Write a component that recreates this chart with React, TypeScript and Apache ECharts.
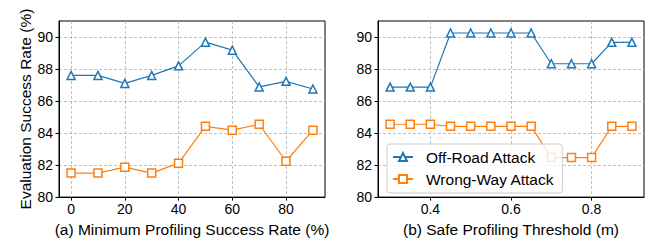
import React, { useEffect, useRef } from "react";
import * as echarts from "echarts";

const leftX = [0, 10, 20, 30, 40, 50, 60, 70, 80, 90];
const leftOffRoad = [87.6, 87.6, 87.1, 87.6, 88.2, 89.68, 89.18, 86.88, 87.23, 86.75];
const leftWrongWay = [81.5, 81.5, 81.87, 81.5, 82.12, 84.42, 84.18, 84.55, 82.24, 84.18];

const rightX = [0.3, 0.35, 0.4, 0.45, 0.5, 0.55, 0.6, 0.65, 0.7, 0.75, 0.8, 0.85, 0.9];
const rightOffRoad = [86.87, 86.87, 86.87, 90.25, 90.25, 90.25, 90.25, 90.25, 88.33, 88.33, 88.33, 89.67, 89.67];
const rightWrongWay = [84.55, 84.55, 84.55, 84.42, 84.42, 84.42, 84.42, 84.42, 82.47, 82.47, 82.47, 84.42, 84.42];

const leftXTicks = [0, 20, 40, 60, 80];
const rightXTicks = [0.4, 0.6, 0.8];
const yTicks = [80, 82, 84, 86, 88, 90];

const seriesNames = ["Off-Road Attack", "Wrong-Way Attack"];
const yLabel = "Evaluation Success Rate (%)";
const leftXLabel = "(a) Minimum Profiling Success Rate (%)";
const rightXLabel = "(b) Safe Profiling Threshold (m)";

const BLUE = "#1f77b4";
const ORANGE = "#ff7f0e";
const FONT = "Liberation Sans, Arial, sans-serif";

function zip(xs: number[], ys: number[]) {
  return xs.map((x, i) => [x, ys[i]]);
}

function makeX(gridIndex: number, min: number, max: number, ticks: number[], name: string) {
  return {
    type: "value",
    gridIndex,
    min,
    max,
    name,
    nameLocation: "middle",
    nameGap: 22,
    nameTextStyle: { fontSize: 15.5, color: "#000", fontFamily: FONT },
    axisLine: { show: true, onZero: false, lineStyle: { color: "#000", width: 1 } },
    axisTick: { show: true, length: 3.5, customValues: ticks, lineStyle: { color: "#000", width: 1 } },
    axisLabel: {
      customValues: ticks,
      fontSize: 14,
      color: "#000",
      fontFamily: FONT,
      margin: 5,
      formatter: (v: number) => String(v),
    },
    splitLine: { show: true, lineStyle: { color: "#b0b0b0", width: 0.8, type: [3, 2] } },
  };
}

function makeY(gridIndex: number, withName: boolean) {
  return {
    type: "value",
    gridIndex,
    min: 80,
    max: 91,
    name: withName ? yLabel : "",
    nameLocation: "middle",
    nameGap: 26,
    nameTextStyle: { fontSize: 15.5, color: "#000", fontFamily: FONT },
    axisLine: { show: true, onZero: false, lineStyle: { color: "#000", width: 1 } },
    axisTick: { show: true, length: 3.5, customValues: yTicks, lineStyle: { color: "#000", width: 1 } },
    axisLabel: { customValues: yTicks, fontSize: 14, color: "#000", fontFamily: FONT, margin: 6 },
    splitLine: { show: true, lineStyle: { color: "#b0b0b0", width: 0.8, type: [3, 2] } },
  };
}

function makeSeries(name: string, idx: number, data: number[][], color: string, symbol: string) {
  return {
    type: "line",
    name,
    xAxisIndex: idx,
    yAxisIndex: idx,
    data,
    symbol,
    symbolSize: 8,
    color,
    lineStyle: { color, width: 1.2 },
    itemStyle: { color: "#fff", borderColor: color, borderWidth: 1.5 },
    emphasis: { disabled: true },
  };
}

export default function App() {
  const ref = useRef<HTMLDivElement>(null);
  useEffect(() => {
    if (!ref.current) return;
    const chart = echarts.init(ref.current, undefined, { renderer: "svg" });
    chart.setOption({
      animation: false,
      backgroundColor: "#fff",
      textStyle: { fontFamily: FONT },
      grid: [
        { left: 59, right: 324, top: 21, bottom: 40, show: true, borderColor: "#000", borderWidth: 1, backgroundColor: "transparent" },
        { left: 378, right: 5, top: 21, bottom: 40, show: true, borderColor: "#000", borderWidth: 1, backgroundColor: "transparent" },
      ],
      xAxis: [
        makeX(0, -4.5, 94.5, leftXTicks, leftXLabel),
        makeX(1, 0.27, 0.93, rightXTicks, rightXLabel),
      ],
      yAxis: [makeY(0, true), makeY(1, false)],
      legend: {
        data: seriesNames,
        orient: "vertical",
        left: 387,
        top: 144,
        z: 10,
        itemWidth: 20,
        itemHeight: 10,
        itemGap: 6,
        padding: [5, 8, 6, 5],
        backgroundColor: "rgba(255,255,255,0.8)",
        borderColor: "#cccccc",
        borderWidth: 1,
        borderRadius: 3,
        textStyle: { fontSize: 15.5, color: "#000", fontFamily: FONT, padding: [0, 0, 0, 8] },
      },
      series: [
        makeSeries(seriesNames[0], 0, zip(leftX, leftOffRoad), BLUE, "triangle"),
        makeSeries(seriesNames[1], 0, zip(leftX, leftWrongWay), ORANGE, "rect"),
        makeSeries(seriesNames[0], 1, zip(rightX, rightOffRoad), BLUE, "triangle"),
        makeSeries(seriesNames[1], 1, zip(rightX, rightWrongWay), ORANGE, "rect"),
      ],
    });
    return () => chart.dispose();
  }, []);
  return (
    <div
      ref={ref}
      style={{ position: "absolute", left: 0, top: 0, width: 649, height: 242 }}
    />
  );
}
